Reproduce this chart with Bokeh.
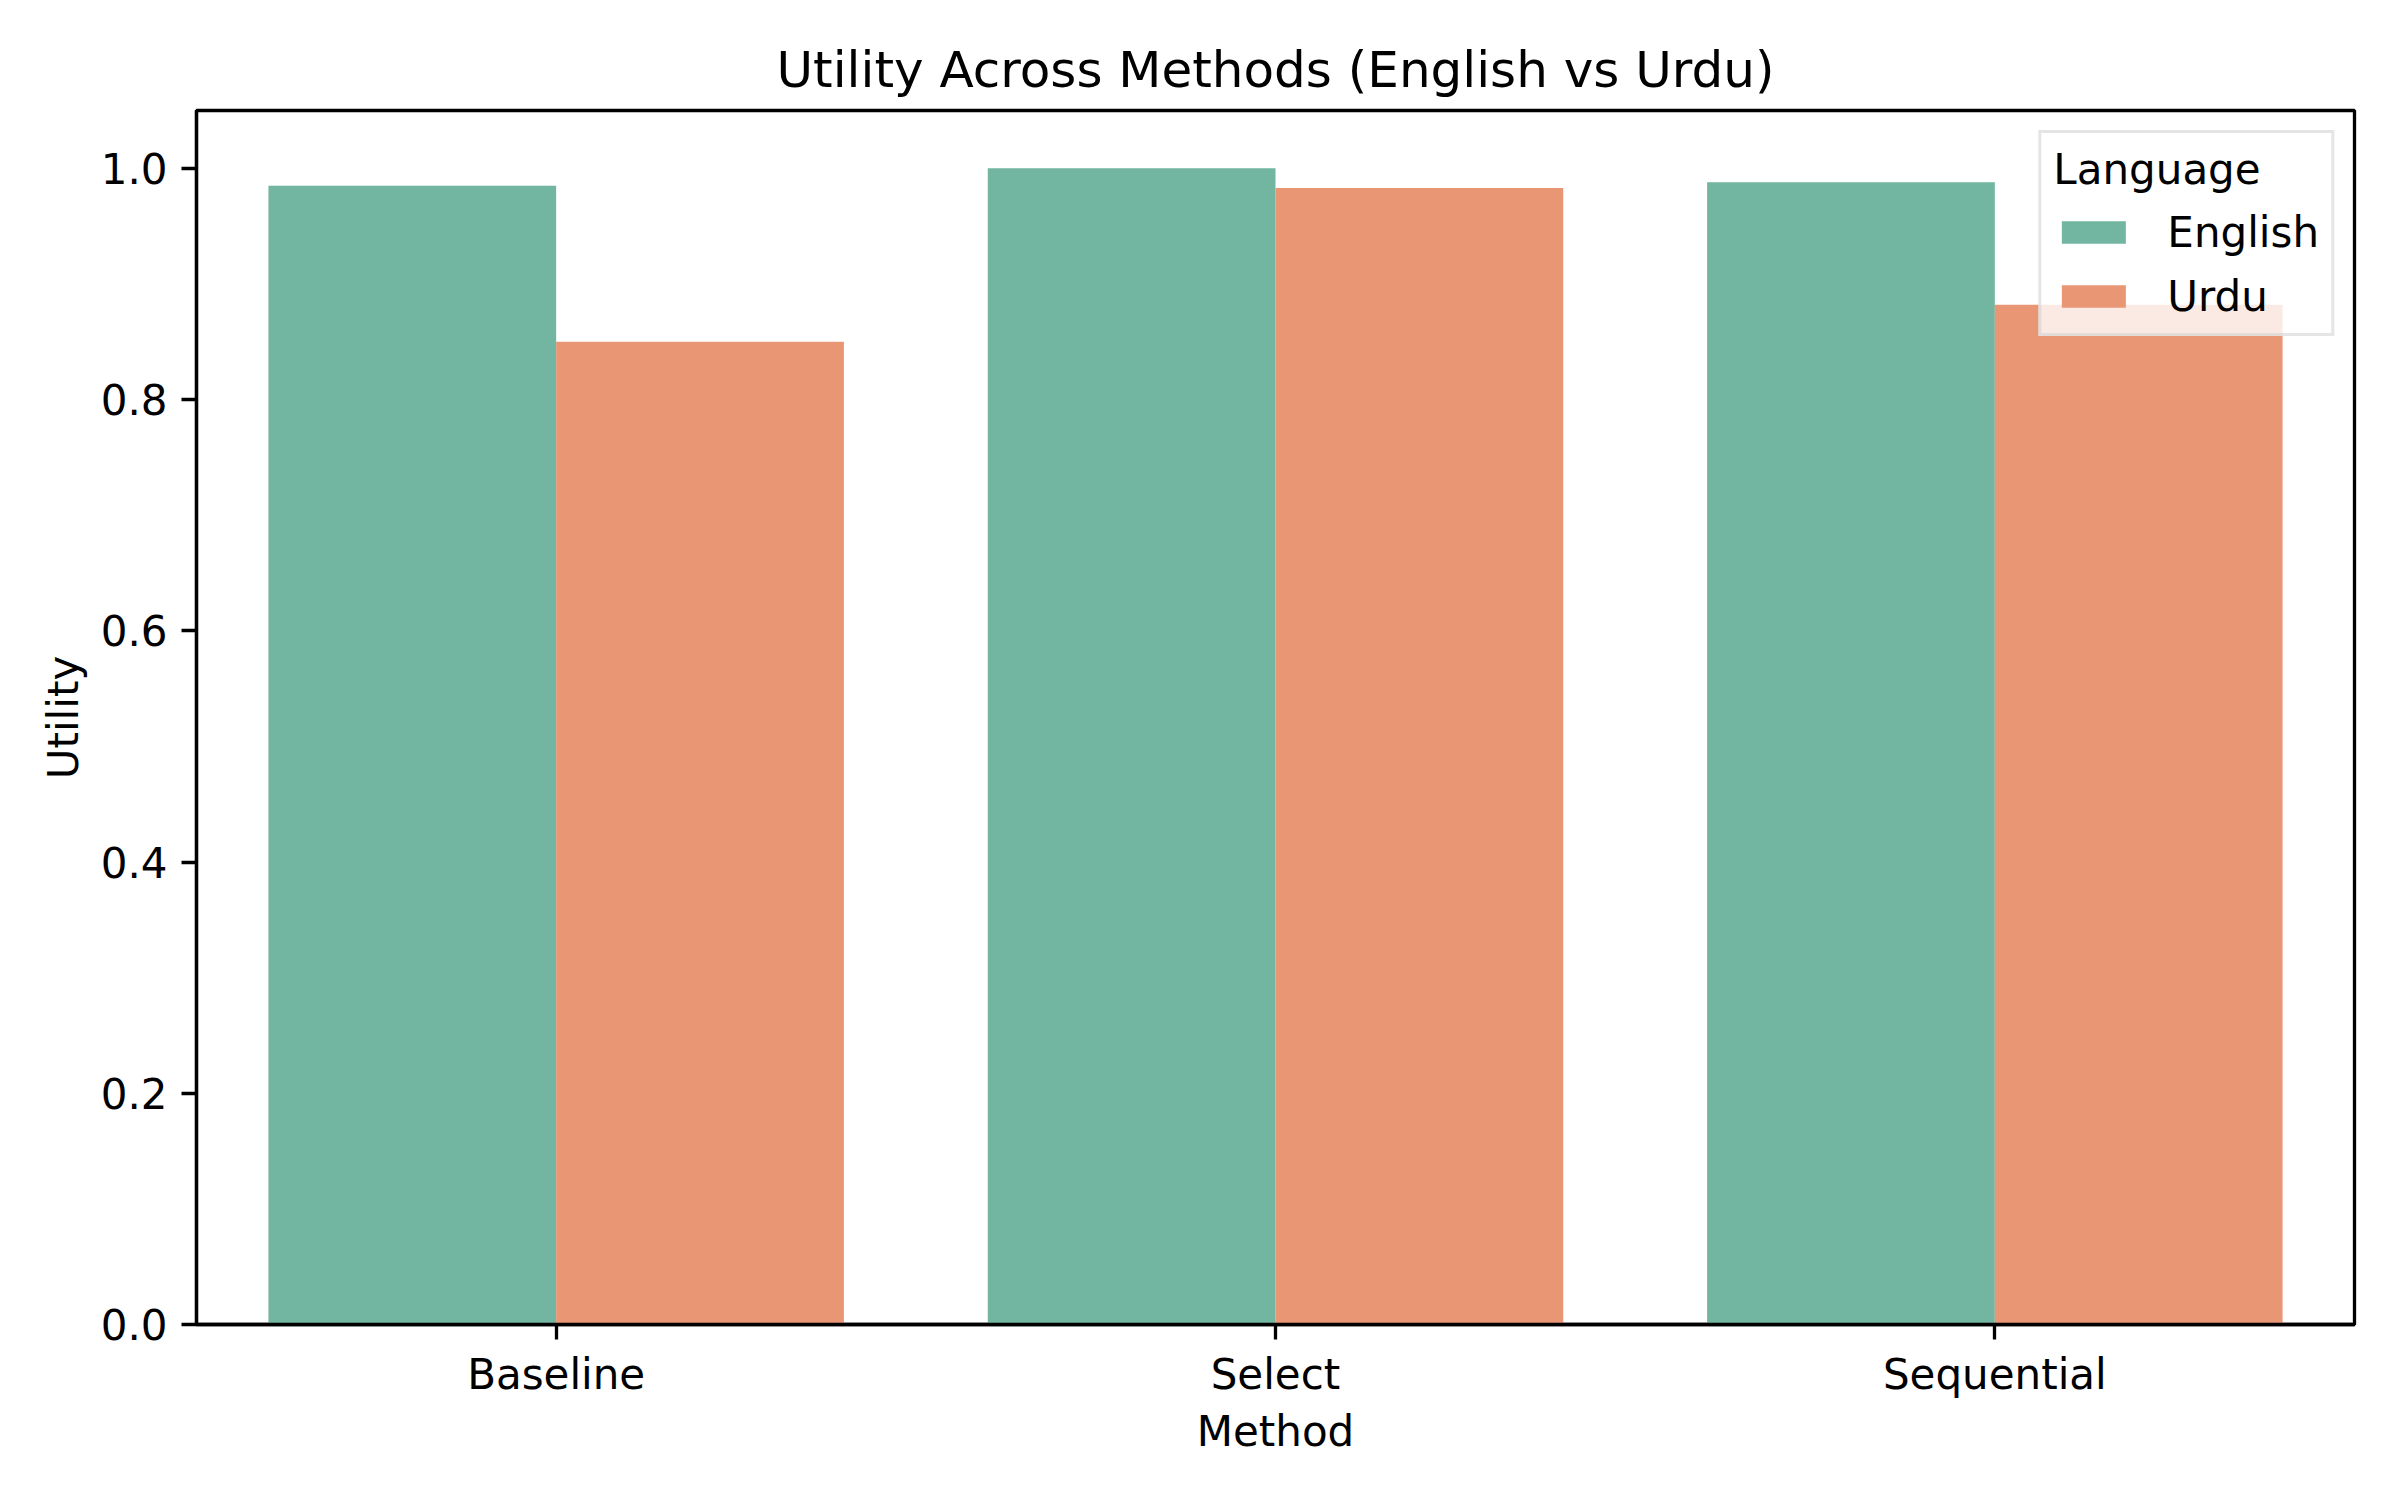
from bokeh.plotting import figure
from bokeh.models import FactorRange, Range1d, ColumnDataSource, Legend, LegendItem, PrintfTickFormatter
from bokeh.transform import dodge
from bokeh.embed import file_html
from bokeh.resources import INLINE

methods = ["Baseline", "Select", "Sequential"]
english = [0.985, 1.000, 0.988]
urdu = [0.850, 0.983, 0.882]
languages = ["English", "Urdu"]
colors = ["#72b5a0", "#e89674"]

FONT = "DejaVu Sans"

src = ColumnDataSource(data=dict(method=methods, English=english, Urdu=urdu))

p = figure(
    x_range=FactorRange(*methods, range_padding=0),
    y_range=Range1d(0, 1.05),
    frame_width=2158, frame_height=1214,
    width=2384, height=1484,
    min_border_left=196, min_border_right=30, min_border_top=110, min_border_bottom=160,
    output_backend="svg", toolbar_location=None,
    title="Utility Across Methods (English vs Urdu)",
)
p.x_range.range_padding = 0

r1 = p.vbar(x=dodge("method", -0.2, range=p.x_range), top="English", width=0.4,
            source=src, fill_color=colors[0], line_color=None)
r2 = p.vbar(x=dodge("method", 0.2, range=p.x_range), top="Urdu", width=0.4,
            source=src, fill_color=colors[1], line_color=None)

p.title.text_font = FONT
p.title.text_font_size = "50px"
p.title.text_font_style = "normal"
p.title.text_color = "black"
p.title.align = "center"
p.title.standoff = 23

p.grid.visible = False
p.outline_line_color = "black"
p.outline_line_width = 3.3
p.outline_line_alpha = 1.0

for ax in (p.xaxis[0], p.yaxis[0]):
    ax.axis_line_width = 3.3
    ax.axis_line_color = "black"
    ax.major_tick_line_width = 3.3
    ax.major_tick_line_color = "black"
    ax.major_tick_out = 15
    ax.major_tick_in = 0
    ax.minor_tick_line_color = None
    ax.major_label_text_font = FONT
    ax.major_label_text_font_size = "42px"
    ax.major_label_text_color = "black"
    ax.axis_label_text_font = FONT
    ax.axis_label_text_font_size = "42px"
    ax.axis_label_text_font_style = "normal"
    ax.axis_label_text_color = "black"
    ax.major_label_standoff = 14

p.xaxis.major_label_standoff = 10
p.xaxis.axis_label = "Method"
p.yaxis.axis_label = "Utility"
p.xaxis.axis_label_standoff = 5
p.yaxis.axis_label_standoff = 10
p.yaxis.ticker = [0.0, 0.2, 0.4, 0.6, 0.8, 1.0]
p.yaxis.formatter = PrintfTickFormatter(format="%.1f")

legend = Legend(
    items=[LegendItem(label=languages[0], renderers=[r1]),
           LegendItem(label=languages[1], renderers=[r2])],
    location="top_right",
    title="Language",
)
legend.title_text_font = FONT
legend.title_text_font_size = "42px"
legend.title_text_font_style = "normal"
legend.title_text_color = "black"
legend.title_standoff = 13
legend.label_text_font = FONT
legend.label_text_font_size = "42px"
legend.label_text_color = "black"
legend.glyph_width = 80
legend.glyph_height = 28
legend.label_standoff = 34
legend.label_height = 50
legend.spacing = 14
legend.padding = 12
legend.margin = 20
legend.border_line_color = "#cccccc"
legend.border_line_width = 3
legend.background_fill_alpha = 0.8
p.add_layout(legend)

open("out.html", "w").write(file_html(p, INLINE))
